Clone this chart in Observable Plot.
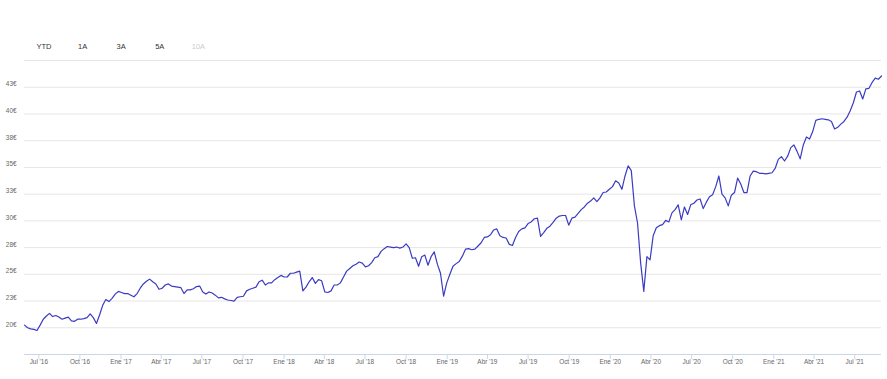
<!DOCTYPE html>
<html><head><meta charset="utf-8">
<script src="https://cdn.jsdelivr.net/npm/d3@7"></script>
<script src="https://cdn.jsdelivr.net/npm/@observablehq/plot@0.6"></script>
<style>
body{margin:0;background:#fff;font-family:"Liberation Sans",Arial,sans-serif;}
#wrap{position:relative;width:887px;height:379px;overflow:hidden}
#btns{position:relative;height:58px;}
.btn{position:absolute;top:42px;font-size:7.5px;color:#333;transform:translateX(-50%);line-height:10px;white-space:nowrap}
.btn.off{color:#ccc}
</style></head><body>
<div id="wrap"><div id="btns"></div><div id="chart"></div></div>
<script>
// Range selector buttons
const rangeButtons = ["YTD", "1A", "3A", "5A", "10A"];
const disabledButtons = ["10A"];

// Weekly closing values (€), starting 2016-05-30
const startDate = "2016-05-30";
const values = [
  20.25,20.0,19.9,19.85,19.75,20.25,20.8,21.1,21.35,21.05,21.15,21.0,20.8,20.9,21.0,20.65,20.6,20.8,20.8,20.85,
  20.95,21.3,20.95,20.4,21.2,22.1,22.65,22.45,22.75,23.15,23.4,23.3,23.2,23.2,23.05,22.9,23.2,23.7,24.1,24.35,
  24.55,24.3,24.1,23.6,23.7,24.0,24.1,
  23.9,23.85,23.8,23.75,23.2,23.55,23.55,23.65,23.85,23.9,23.35,23.15,23.35,23.25,23.05,22.8,22.85,22.7,22.6,22.55,
  22.5,22.85,22.9,22.95,23.45,23.6,23.7,23.8,24.3,24.45,24.0,24.2,24.2,24.5,24.7,24.9,24.75,24.75,25.1,25.1,
  25.2,25.3,23.45,23.8,24.3,24.7,24.15,
  24.5,24.4,23.35,23.3,23.45,24.0,24.0,24.2,24.75,25.3,25.55,25.8,25.95,26.15,26.05,25.7,25.8,26.1,26.55,26.65,
  27.15,27.4,27.6,27.55,27.5,27.55,27.45,27.55,27.85,27.5,26.5,26.55,25.75,26.65,26.8,25.85,26.65,27.1,25.95,25.1,
  22.95,24.2,25.0,25.75,26.0,26.2,
  26.7,27.35,27.4,27.3,27.35,27.65,27.95,28.45,28.5,28.7,29.15,29.25,28.6,28.45,28.4,27.8,27.7,28.45,29.0,29.25,
  29.35,29.75,29.9,30.2,30.25,28.55,28.9,29.3,29.5,29.85,30.25,30.45,30.5,30.5,29.6,30.25,30.35,30.7,31.05,31.3,
  31.65,31.85,32.15,31.8,32.15,32.65,
  32.7,32.95,33.2,33.75,33.55,32.95,34.2,35.15,34.7,31.4,29.8,26.05,23.4,26.65,26.35,28.6,29.35,29.55,29.65,30.05,
  29.9,30.75,31.05,31.5,30.1,31.3,30.6,31.5,31.65,31.95,32.05,31.15,31.75,32.25,32.45,33.2,34.2,32.5,32.15,31.4,
  32.4,32.65,34.0,33.45,32.65,32.65,
  34.2,34.65,34.6,34.45,34.45,34.4,34.45,34.5,34.9,35.75,36.0,35.6,36.05,36.85,37.1,36.5,35.8,37.1,37.85,37.65,
  38.35,39.4,39.5,39.55,39.5,39.45,39.3,38.6,38.75,39.05,39.3,39.7,40.3,41.05,42.05,42.15,41.4,42.35,42.4,42.95,
  43.35,43.25,43.55
];

// Axis ticks
const yGrid = [20, 22.5, 25, 27.5, 30, 32.5, 35, 37.5, 40, 42.5, 45];
const yTicks = [20, 22.5, 25, 27.5, 30, 32.5, 35, 37.5, 40, 42.5];
const yLabels = ["20€","23€","25€","28€","30€","33€","35€","38€","40€","43€"];
const xTickDates = ["2016-07-01","2016-10-01","2017-01-01","2017-04-01","2017-07-01","2017-10-01","2018-01-01",
  "2018-04-01","2018-07-01","2018-10-01","2019-01-01","2019-04-01","2019-07-01","2019-10-01","2020-01-01",
  "2020-04-01","2020-07-01","2020-10-01","2021-01-01","2021-04-01","2021-07-01"];
const xLabels = ["Jul '16","Oct '16","Ene '17","Abr '17","Jul '17","Oct '17","Ene '18","Abr '18","Jul '18","Oct '18",
  "Ene '19","Abr '19","Jul '19","Oct '19","Ene '20","Abr '20","Jul '20","Oct '20","Ene '21","Abr '21","Jul '21"];

// Buttons
const btns = document.getElementById("btns");
rangeButtons.forEach((b, i) => {
  const s = document.createElement("span");
  s.className = "btn" + (disabledButtons.includes(b) ? " off" : "");
  s.style.left = (44 + i * 38.6) + "px";
  s.textContent = b;
  btns.appendChild(s);
});

const start = new Date(startDate);
const data = values.map((v, i) => ({date: d3.utcDay.offset(start, 7 * i), value: v}));
const xTicks = xTickDates.map(d => new Date(d));
const xLabelMap = new Map(xTicks.map((d, i) => [+d, xLabels[i]]));
const yLabelMap = new Map(yTicks.map((d, i) => [d, yLabels[i]]));

const font = "Liberation Sans, Arial, sans-serif";
const chart = Plot.plot({
  width: 887, height: 321,
  marginLeft: 24, marginRight: 6, marginTop: 2, marginBottom: 25,
  style: {fontFamily: font, background: "#fff", overflow: "visible"},
  x: {type: "utc", domain: [data[0].date, data[data.length - 1].date], label: null},
  y: {domain: [17.5, 45], label: null},
  marks: [
    Plot.gridY(yGrid, {stroke: "#e6e6e6", strokeOpacity: 1}),
    Plot.ruleY([17.5], {stroke: "#ccd6eb"}),
    Plot.axisY({ticks: yTicks, tickFormat: d => yLabelMap.get(d), tickSize: 0, tickPadding: 8,
      fontSize: 6.4, fill: "#666", dy: -3, label: null}),
    Plot.axisX({ticks: xTicks, tickFormat: d => xLabelMap.get(+d), tickSize: 5, tickPadding: 0,
      fontSize: 6.4, fill: "#666", stroke: "#ccd6eb", label: null}),
    Plot.line(data, {x: "date", y: "value", stroke: "#3b3bc2", strokeWidth: 1.2})
  ]
});
document.getElementById("chart").appendChild(chart);
</script>
</body></html>
